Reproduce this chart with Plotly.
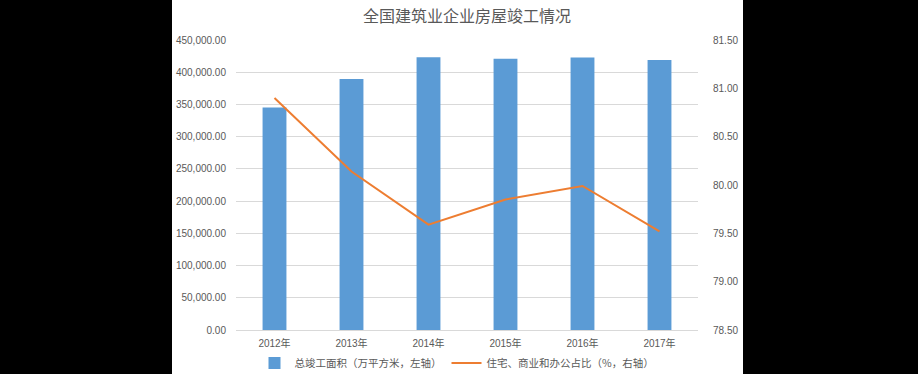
import plotly.graph_objects as go

years = ["2012年", "2013年", "2014年", "2015年", "2016年", "2017年"]
area = [345300, 389500, 423400, 420800, 422800, 419100]
share = [80.90, 80.14, 79.59, 79.85, 79.99, 79.52]

left_ticks = [0, 50000, 100000, 150000, 200000, 250000, 300000, 350000, 400000, 450000]
right_ticks = [78.5, 79.0, 79.5, 80.0, 80.5, 81.0, 81.5]

TXT = "#595959"
FONT = "Noto Sans CJK SC"

fig = go.Figure()
fig.add_trace(go.Bar(
    x=years, y=area, name="总竣工面积（万平方米，左轴）",
    marker=dict(color="#5B9BD5", line=dict(width=0)), yaxis="y",
))
fig.add_trace(go.Scatter(
    x=years, y=share, name="住宅、商业和办公占比（%，右轴）",
    mode="lines", line=dict(color="#ED7D31", width=2), yaxis="y2",
))

fig.update_layout(
    width=918, height=374,
    margin=dict(l=236, r=220, t=40, b=44, autoexpand=False),
    paper_bgcolor="black", plot_bgcolor="white",
    bargap=0.69,
    font=dict(family=FONT, color=TXT, size=10),
    title=dict(text="全国建筑业企业房屋竣工情况", x=0.5, xref="paper", xanchor="center",
               y=1 - 16 / 374, yref="container", yanchor="middle",
               font=dict(size=16, color=TXT, family=FONT)),
    xaxis=dict(showgrid=False, ticks="", showline=True, linecolor="#D9D9D9", linewidth=1,
               ticklabelstandoff=4,
               tickfont=dict(family="Liberation Sans, " + FONT, size=10, color=TXT)),
    yaxis=dict(range=[0, 450000], tickvals=left_ticks, tickformat=",.2f",
               showgrid=True, gridcolor="#D9D9D9", gridwidth=1, zeroline=False,
               ticks="", ticklabelstandoff=9,
               tickfont=dict(family="Liberation Sans", size=10, color=TXT)),
    yaxis2=dict(range=[78.5, 81.5], tickvals=right_ticks, tickformat=".2f",
                overlaying="y", side="right", showgrid=False, zeroline=False,
                ticks="", ticklabelstandoff=14,
                tickfont=dict(family="Liberation Sans", size=10, color=TXT)),
    legend=dict(orientation="h", x=0.5 - 10 / 462, xanchor="center", xref="paper",
                y=11 / 374, yref="container", yanchor="middle",
                font=dict(size=10.5, color=TXT, family=FONT),
                itemwidth=30, bgcolor="rgba(0,0,0,0)"),
    shapes=[dict(type="rect", xref="paper", yref="paper",
                 x0=(172 - 236) / 462, x1=(743 - 236) / 462,
                 y0=-44 / 290, y1=1 + 40 / 290,
                 fillcolor="white", line=dict(width=0), layer="below")],
)

fig.write_html("out.html", config={"displayModeBar": False},
               post_script="document.body.style.margin='0';document.body.style.overflow='hidden';document.body.style.background='black';")
